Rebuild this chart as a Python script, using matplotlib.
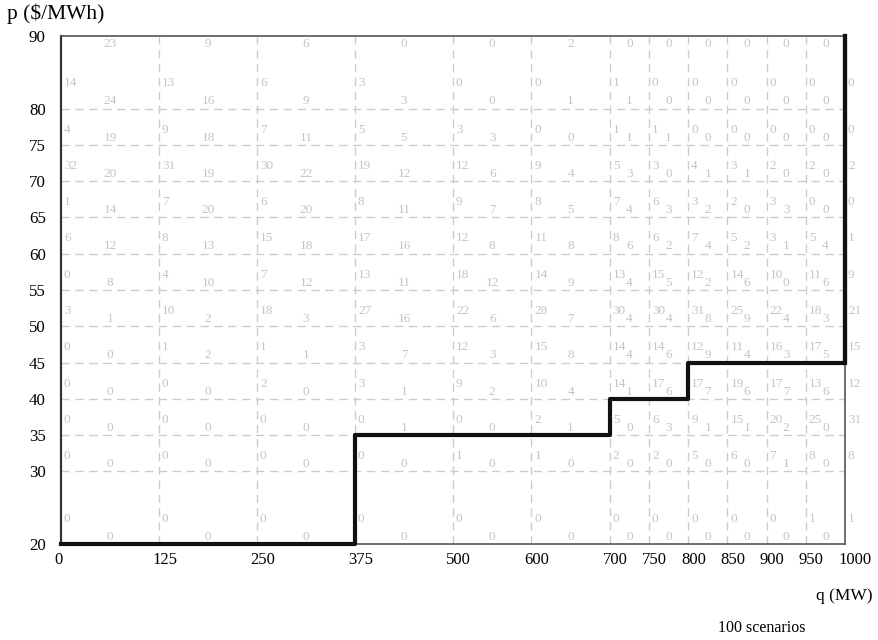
import matplotlib
matplotlib.use("Agg")
import matplotlib.pyplot as plt
import matplotlib.transforms as mtransforms
import numpy as np

# ---- data ----
q_grid = [0, 125, 250, 375, 500, 600, 700, 750, 800, 850, 900, 950, 1000]
p_grid = [20, 30, 35, 40, 45, 50, 55, 60, 65, 70, 75, 80, 90]

# counts at each q gridline (rows: price bands from bottom 20-30 to top 80-90)
left_counts = [
    [0, 0, 0, 0, 0, 0, 0, 0, 0, 0, 0, 1, 1],          # 20-30
    [0, 0, 0, 0, 1, 1, 2, 2, 5, 6, 7, 8, 8],          # 30-35
    [0, 0, 0, 0, 0, 2, 5, 6, 9, 15, 20, 25, 31],      # 35-40
    [0, 0, 2, 3, 9, 10, 14, 17, 17, 19, 17, 13, 12],  # 40-45
    [0, 1, 1, 3, 12, 15, 14, 14, 12, 11, 16, 17, 15], # 45-50
    [3, 10, 18, 27, 22, 28, 30, 30, 31, 25, 22, 18, 21],  # 50-55
    [0, 4, 7, 13, 18, 14, 13, 15, 12, 14, 10, 11, 9], # 55-60
    [6, 8, 15, 17, 12, 11, 8, 6, 7, 5, 3, 5, 1],      # 60-65
    [1, 7, 6, 8, 9, 8, 7, 6, 3, 2, 3, 0, 0],          # 65-70
    [32, 31, 30, 19, 12, 9, 5, 3, 4, 3, 2, 2, 2],     # 70-75
    [4, 9, 7, 5, 3, 0, 1, 1, 0, 0, 0, 0, 0],          # 75-80
    [14, 13, 6, 3, 0, 0, 1, 0, 0, 0, 0, 0, 0],        # 80-90
]

# counts in each q interval
center_counts = [
    [0, 0, 0, 0, 0, 0, 0, 0, 0, 0, 0, 0],             # 20-30
    [0, 0, 0, 0, 0, 0, 0, 0, 0, 0, 1, 0],             # 30-35
    [0, 0, 0, 1, 0, 1, 0, 3, 1, 1, 2, 0],             # 35-40
    [0, 0, 0, 1, 2, 4, 1, 6, 7, 6, 7, 6],             # 40-45
    [0, 2, 1, 7, 3, 8, 4, 6, 9, 4, 3, 5],             # 45-50
    [1, 2, 3, 16, 6, 7, 4, 4, 8, 9, 4, 3],            # 50-55
    [8, 10, 12, 11, 12, 9, 4, 5, 2, 6, 0, 6],         # 55-60
    [12, 13, 18, 16, 8, 8, 6, 2, 4, 2, 1, 4],         # 60-65
    [14, 20, 20, 11, 7, 5, 4, 3, 2, 0, 3, 0],         # 65-70
    [20, 19, 22, 12, 6, 4, 3, 0, 1, 1, 0, 0],         # 70-75
    [19, 18, 11, 5, 3, 0, 1, 1, 0, 0, 0, 0],          # 75-80
    [24, 16, 9, 3, 0, 1, 1, 0, 0, 0, 0, 0],           # 80-90
]
top_counts = [23, 9, 6, 0, 0, 2, 0, 0, 0, 0, 0, 0]

step_q = [0, 375, 700, 800, 1000]
step_p = [20, 35, 40, 45, 90]

# ---- figure ----
plt.rcParams['font.family'] = ['Liberation Serif', 'DejaVu Serif']
fig = plt.figure(figsize=(8.79, 6.40), dpi=100)
ax = fig.add_axes([61/879, 1-544/640, (845-61)/879, (544-36)/640])
ax.set_xlim(0, 1000)
ax.set_ylim(20, 90)

ax.set_xticks(q_grid)
ax.set_xticklabels([str(v) for v in q_grid], fontsize=12)
ax.set_yticks(p_grid)
ax.set_yticklabels([str(v) for v in p_grid], fontsize=12.2)
ax.tick_params(length=0)
ax.tick_params(axis='y', pad=11)
ax.tick_params(axis='x', pad=6)
shift = mtransforms.ScaledTranslation(-7/100, 0, fig.dpi_scale_trans)
for lab in ax.get_xticklabels():
    lab.set_horizontalalignment('left')
    lab.set_transform(lab.get_transform() + shift)

for v in q_grid[1:-1]:
    ax.axvline(v, color='#cccccc', lw=1, ls=(0, (6, 4)), zorder=1)
for v in p_grid[1:-1]:
    ax.axhline(v, color='#cccccc', lw=1, ls=(0, (6, 4)), zorder=1)

for s in ax.spines.values():
    s.set_color('#555555')
    s.set_linewidth(1.2)
ax.spines['left'].set_color('#333333')
ax.spines['left'].set_linewidth(1.6)

gray = '#c4c4c4'
fs = 9.5
off = mtransforms.offset_copy(ax.transData, fig=fig, x=3, y=0, units='dots')
for j in range(len(p_grid) - 1):
    lo, hi = p_grid[j], p_grid[j + 1]
    yl = lo + (2.1 if hi - lo == 5 else 3.5)
    yc = lo + 1.0
    for i, v in enumerate(q_grid):
        ax.text(v, yl, str(left_counts[j][i]), transform=off, ha='left',
                va='center', fontsize=fs, color=gray, zorder=2)
    for i in range(len(q_grid) - 1):
        xm = (q_grid[i] + q_grid[i + 1]) / 2
        ax.text(xm, yc, str(center_counts[j][i]), ha='center', va='center',
                fontsize=fs, color=gray, zorder=2)
for i in range(len(q_grid) - 1):
    xm = (q_grid[i] + q_grid[i + 1]) / 2
    ax.text(xm, 88.9, str(top_counts[i]), ha='center', va='center',
            fontsize=fs, color=gray, zorder=2)

ax.step(step_q, step_p, where='post', color='#111111', lw=3, zorder=5,
        clip_on=False)
ax.plot([step_q[-1], step_q[-1]], [step_p[-2], step_p[-1]], color='#111111',
        lw=3, zorder=5, clip_on=False)

fig.text(7/879, 1-14/640, 'p ($/MWh)', fontsize=15.5, ha='left', va='center')
fig.text(873/879, 1-596/640, 'q (MW)', fontsize=12.5, ha='right', va='center')
fig.text(762/879, 1-628/640, '100 scenarios', fontsize=11.5, ha='center',
         va='center')

fig.savefig('out.png', dpi=100)
